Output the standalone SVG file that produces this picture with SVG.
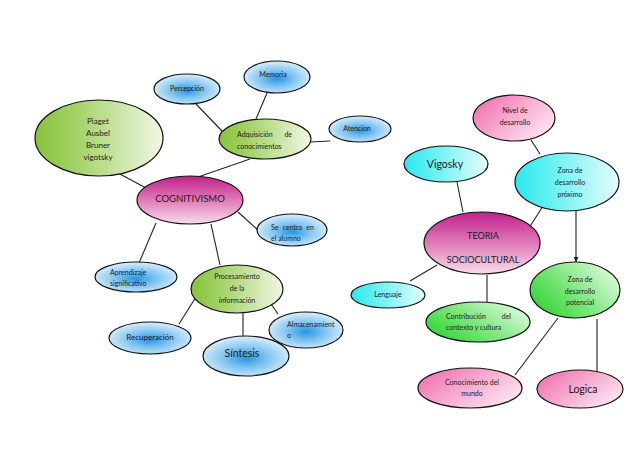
<svg xmlns="http://www.w3.org/2000/svg" width="638" height="452" viewBox="0 0 638 452">
<defs>
<linearGradient id="gGreen" x1="0" y1="0" x2="1" y2="0">
<stop offset="0" stop-color="#86c33a"/><stop offset="0.35" stop-color="#a7d46c"/><stop offset="1" stop-color="#f1f7e6"/>
</linearGradient>
<radialGradient id="gBlue" cx="0.5" cy="0.55" r="0.55">
<stop offset="0" stop-color="#2496e0"/><stop offset="0.45" stop-color="#7fc3f0"/><stop offset="1" stop-color="#dcf0fb"/>
</radialGradient>
<linearGradient id="gMag" x1="0" y1="0" x2="0" y2="1">
<stop offset="0" stop-color="#c0218a"/><stop offset="0.5" stop-color="#e07ab8"/><stop offset="1" stop-color="#f7dcec"/>
</linearGradient>
<linearGradient id="gCyan" x1="0" y1="0" x2="1" y2="0">
<stop offset="0" stop-color="#28eaee"/><stop offset="0.45" stop-color="#7cf2f4"/><stop offset="1" stop-color="#e6fdfd"/>
</linearGradient>
<linearGradient id="gLime" x1="0" y1="0.8" x2="1" y2="0.2">
<stop offset="0" stop-color="#2ed42e"/><stop offset="0.45" stop-color="#7ae67a"/><stop offset="1" stop-color="#e2fae2"/>
</linearGradient>
<linearGradient id="gPink" x1="0" y1="0.2" x2="1" y2="0.8">
<stop offset="0" stop-color="#ef72b0"/><stop offset="0.45" stop-color="#f6a9cf"/><stop offset="1" stop-color="#feeaf4"/>
</linearGradient>
<marker id="arr" viewBox="0 0 10 10" refX="10" refY="5" markerWidth="5" markerHeight="5" orient="auto" markerUnits="userSpaceOnUse">
<path d="M0,0 L10,5 L0,10 z" fill="#222"/>
</marker>
<style>
ellipse{stroke:#111;stroke-width:1.2}
.c line{stroke:#222;stroke-width:1.1}
text{font-family:Lato,"Open Sans","Liberation Sans",sans-serif;fill:#1c1c1c;font-size:7px}
.m{text-anchor:middle}
.e{text-anchor:end}
.green{fill:url(#gGreen)}
.blue{fill:url(#gBlue)}
.mag{fill:url(#gMag)}
.cyan{fill:url(#gCyan)}
.lime{fill:url(#gLime)}
.pink{fill:url(#gPink)}
</style>
</defs>
<rect width="638" height="452" fill="#fff"/>
<g class="c" id="connectors">
<line x1="118" y1="173" x2="146" y2="188"/>
<line x1="196" y1="104" x2="222" y2="131"/>
<line x1="267" y1="93" x2="256" y2="119"/>
<line x1="310" y1="142" x2="330" y2="141"/>
<line x1="250" y1="159" x2="198" y2="177"/>
<line x1="238" y1="212" x2="259" y2="231"/>
<line x1="156" y1="223" x2="139" y2="263"/>
<line x1="211" y1="224" x2="220" y2="265"/>
<line x1="196" y1="297" x2="179" y2="324"/>
<line x1="243" y1="313" x2="243" y2="336"/>
<line x1="269" y1="301" x2="278" y2="314"/>
<line x1="531" y1="140" x2="540" y2="154"/>
<line x1="457" y1="182" x2="463" y2="212"/>
<line x1="543" y1="206" x2="529" y2="228"/>
<line x1="576" y1="211" x2="576" y2="262" marker-end="url(#arr)"/>
<line x1="437" y1="265" x2="410" y2="281"/>
<line x1="487" y1="275" x2="487" y2="302"/>
<line x1="558" y1="318" x2="515" y2="375"/>
<line x1="597" y1="319" x2="597" y2="371"/>
</g>
<g id="piaget"><ellipse class="green" cx="99" cy="138" rx="64" ry="38"/>
<text class="m" x="98" y="124" style="font-size:8px">Piaget</text>
<text class="m" x="98" y="136" style="font-size:8px">Ausbel</text>
<text class="m" x="98" y="148" style="font-size:8px">Bruner</text>
<text class="m" x="98" y="160" style="font-size:8px">vigotsky</text></g>
<g id="percepcion"><ellipse class="blue" cx="187" cy="89" rx="33" ry="15"/>
<text class="m" x="187" y="91">Percepción</text></g>
<g id="memoria"><ellipse class="blue" cx="277" cy="77" rx="33" ry="16"/>
<text class="m" x="273" y="77">Memoria</text></g>
<g id="adquisicion"><ellipse class="green" cx="265" cy="139" rx="46" ry="20"/>
<text x="237" y="137">Adquisición</text><text class="e" x="292" y="137">de</text>
<text x="237" y="149">conocimientos</text></g>
<g id="atencion"><ellipse class="blue" cx="360" cy="129" rx="31" ry="13"/>
<text class="m" x="357" y="131">Atencion</text></g>
<g id="cognitivismo"><ellipse class="mag" cx="190" cy="200" rx="53" ry="24"/>
<text class="m" x="190" y="202" style="font-size:9.5px">COGNITIVISMO</text></g>
<g id="secentra"><ellipse class="blue" cx="292" cy="230" rx="35" ry="16"/>
<text x="271" y="230" style="word-spacing:2.5px">Se centra en</text>
<text x="271" y="241">el alumno</text></g>
<g id="aprendizaje"><ellipse class="blue" cx="136" cy="277" rx="41" ry="15"/>
<text x="110" y="275">Aprendizaje</text>
<text x="110" y="286">significativo</text></g>
<g id="procesamiento"><ellipse class="green" cx="237" cy="289" rx="46" ry="24"/>
<text class="m" x="237" y="279">Procesamiento</text>
<text class="m" x="237" y="291">de la</text>
<text class="m" x="237" y="303">información</text></g>
<g id="recuperacion"><ellipse class="blue" cx="150" cy="338" rx="41" ry="16"/>
<text class="m" x="150" y="340" style="font-size:8px">Recuperación</text></g>
<g id="sintesis"><ellipse class="blue" cx="246" cy="356" rx="43" ry="20"/>
<text class="m" x="242" y="357" style="font-size:10.5px">Síntesis</text></g>
<g id="almacenamiento"><ellipse class="blue" cx="306" cy="330" rx="37" ry="18"/>
<text x="287" y="327">Almacenamient</text>
<text x="287" y="338">o</text></g>
<g id="nivel"><ellipse class="pink" cx="514" cy="118" rx="41" ry="23"/>
<text class="m" x="515" y="113">Nivel de</text>
<text class="m" x="515" y="125">desarrollo</text></g>
<g id="vigosky"><ellipse class="cyan" cx="446" cy="164" rx="42" ry="18"/>
<text class="m" x="445" y="168" style="font-size:10.5px">Vigosky</text></g>
<g id="zonaproximo"><ellipse class="cyan" cx="567" cy="182" rx="52" ry="29"/>
<text class="m" x="570" y="173">Zona de</text>
<text class="m" x="570" y="185">desarrollo</text>
<text class="m" x="570" y="197">próximo</text></g>
<g id="teoria"><ellipse class="mag" cx="482" cy="243" rx="58" ry="31"/>
<text class="m" x="483" y="239" style="font-size:9px">TEORIA</text>
<text class="m" x="483" y="263" style="font-size:9px">SOCIOCULTURAL</text></g>
<g id="lenguaje"><ellipse class="cyan" cx="388" cy="295" rx="37" ry="13"/>
<text class="m" x="388" y="297">Lenguaje</text></g>
<g id="contribucion"><ellipse class="lime" cx="478" cy="322" rx="52" ry="20"/>
<text x="446" y="319">Contribución</text><text class="e" x="511" y="319">del</text>
<text x="446" y="330">contexto y cultura</text></g>
<g id="zonapotencial"><ellipse class="lime" cx="575" cy="290" rx="45" ry="28"/>
<text class="m" x="580" y="282">Zona de</text>
<text class="m" x="580" y="294">desarrollo</text>
<text class="m" x="580" y="305">potencial</text></g>
<g id="conocimiento"><ellipse class="pink" cx="470" cy="388" rx="52" ry="20"/>
<text class="m" x="472" y="385">Conocimiento del</text>
<text class="m" x="472" y="396">mundo</text></g>
<g id="logica"><ellipse class="pink" cx="580" cy="389" rx="43" ry="19"/>
<text class="m" x="583" y="393" style="font-size:10.5px">Logica</text></g>
</svg>
